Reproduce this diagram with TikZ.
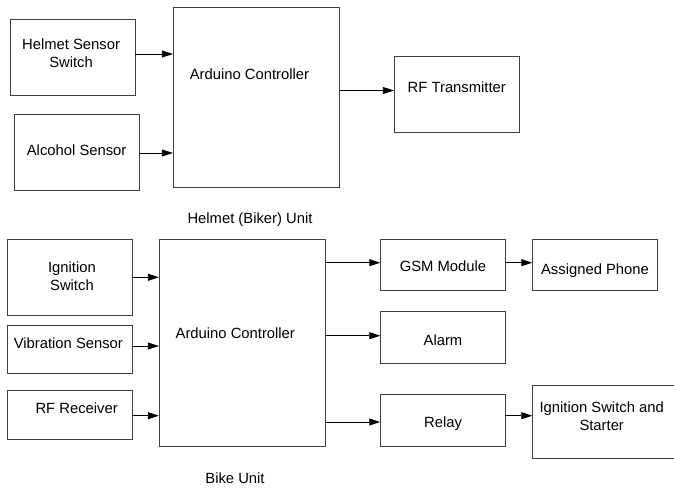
\documentclass[tikz,border=0pt]{standalone}
\usepackage{fontspec}
\setmainfont{Liberation Sans}
\usetikzlibrary{arrows.meta, positioning}

\definecolor{boxgray}{RGB}{64,64,64}

\begin{document}
\begin{tikzpicture}[x=1pt, y=-1pt, >={Triangle[length=11pt, width=7pt]}]
    \tikzset{
        blk/.style 2 args={draw=boxgray, line width=0.9pt, minimum width=#1, minimum height=#2, inner sep=0pt},
        txt/.style={font=\fontsize{14.8}{18}\selectfont, align=center, inner sep=0pt},
        arr/.style={->, line width=0.8pt, black}
    }
    \useasboundingbox (0,0) rectangle (674,489);

    % Helmet (biker) unit
    \node[blk={124.7pt}{76pt}, label={[txt, xshift=-1.6pt, yshift=3.8pt]center:Helmet Sensor\\Switch}] (hss) at (72.65,57.3) {};
    \node[blk={124.7pt}{75.6pt}, label={[txt, yshift=2.5pt]center:Alcohol Sensor}] (alc) at (76.65,152.5) {};
    \node[blk={166.4pt}{179.7pt}, label={[txt, xshift=-7pt, yshift=23pt]center:Arduino Controller}] (ardA) at (256.5,97.15) {};
    \node[blk={125pt}{76pt}, label={[txt, yshift=6.3pt]center:RF Transmitter}] (rft) at (456.8,94) {};
    \node[txt] (capA) at (250,220) {Helmet (Biker) Unit};

    \draw[arr] (hss.east |- 0,54) -- (ardA.west |- 0,54);
    \draw[arr] (alc.east |- 0,153) -- (ardA.west |- 0,153);
    \draw[arr] (ardA.east |- 0,90.5) -- (rft.west |- 0,90.5);

    % Bike unit
    \node[blk={124.7pt}{76pt}, label={[txt, xshift=2.3pt, yshift=0.5pt]center:Ignition\\Switch}] (ign) at (69.65,277) {};
    \node[blk={124.7pt}{48.3pt}, label={[txt, xshift=-1.3pt, yshift=5.9pt]center:Vibration Sensor}] (vib) at (69.65,349.2) {};
    \node[blk={124.7pt}{48.3pt}, label={[txt, xshift=7pt, yshift=6.8pt]center:RF Receiver}] (rfr) at (69.65,414.85) {};
    \node[blk={166.4pt}{207pt}, label={[txt, xshift=-7.2pt, yshift=9.2pt]center:Arduino Controller}] (ardB) at (242.5,342.5) {};
    \node[blk={124.6pt}{51.7pt}, label={[txt, yshift=-1.8pt]center:GSM Module}] (gsm) at (443,264.85) {};
    \node[blk={124.6pt}{51.3pt}, label={[txt, yshift=-2.6pt]center:Alarm}] (alm) at (443,337.35) {};
    \node[blk={124.6pt}{51.7pt}, label={[txt, yshift=-3.2pt]center:Relay}] (rly) at (443,420.15) {};
    \node[blk={124.6pt}{51.7pt}, label={[txt, yshift=-5.8pt]center:Assigned Phone}] (phn) at (595,264.85) {};
    \node[blk={150pt}{72.6pt}, label={[txt, xshift=-6pt, yshift=6pt]center:Ignition Switch and\\Starter}] (iss) at (607.7,422) {};
    \node[txt] (capB) at (235,478.3) {Bike Unit};

    \foreach \src/\yy in {ign/277.3, vib/346, rfr/415.7}
        \draw[arr] (\src.east |- 0,\yy) -- (ardB.west |- 0,\yy);
    \foreach \dst/\yy in {gsm/262.7, alm/335.7, rly/422}
        \draw[arr] (ardB.east |- 0,\yy) -- (\dst.west |- 0,\yy);
    \draw[arr] (gsm.east |- 0,262.7) -- (phn.west |- 0,262.7);
    \draw[arr] (rly.east |- 0,415.7) -- (iss.west |- 0,415.7);
\end{tikzpicture}
\end{document}
